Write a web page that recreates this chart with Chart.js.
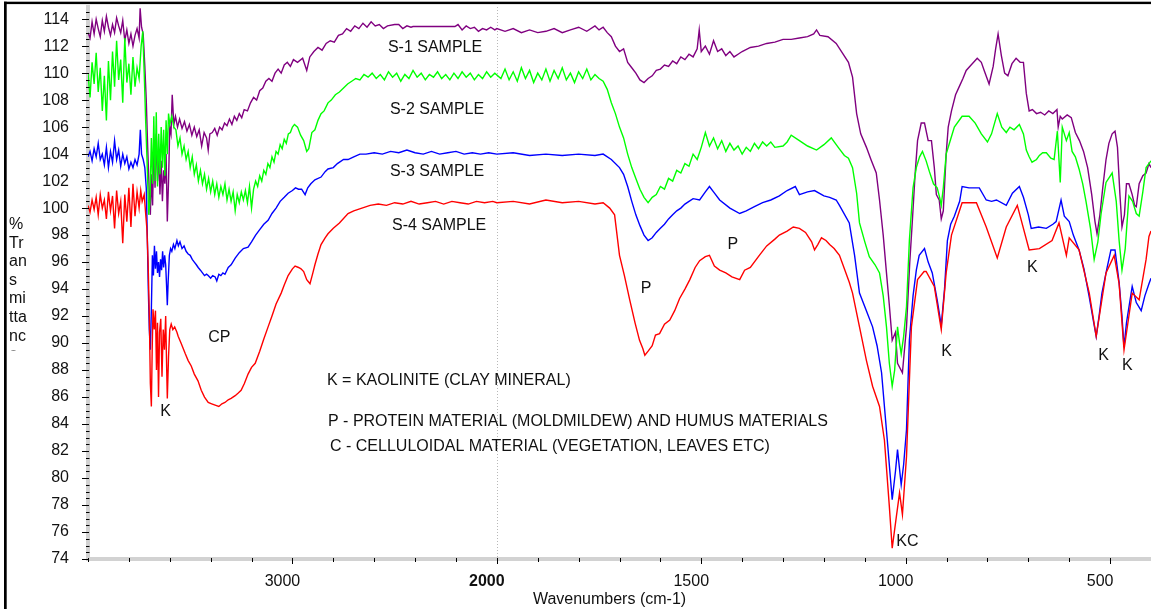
<!DOCTYPE html>
<html>
<head>
<meta charset="utf-8">
<script src="https://cdn.jsdelivr.net/npm/chart.js@4/dist/chart.umd.min.js"></script>
<style>
  html, body { margin: 0; padding: 0; background: #fff; }
  canvas { display: block; }
</style>
</head>
<body>
<canvas id="ftir" width="1151" height="609"></canvas>
<script>
/* ── Spectra: [wavenumber cm-1, %T] ─────────────────────────────────── */
const s1 = [
  [4000,113.0],[3990,112.6],[3980,113.8],[3970,112.9],[3960,114.0],[3950,113.3],[3940,112.7],[3930,113.9],
  [3920,113.1],[3910,114.2],[3900,113.4],[3890,112.8],[3880,113.6],[3870,113.0],[3860,114.1],[3850,113.5],
  [3840,113.0],[3830,113.9],[3820,112.4],[3810,113.2],[3800,112.2],[3790,112.9],[3780,112.0],[3770,112.8],
  [3760,113.3],[3750,112.6],[3745,114.8],[3738,113.4],[3730,112.9],[3722,110.5],[3715,108.0],[3708,104.5],
  [3700,101.0],[3695,99.5],[3690,102.5],[3684,100.2],[3678,104.8],[3672,101.5],[3666,105.5],[3660,102.0],
  [3654,104.0],[3648,101.0],[3642,103.5],[3636,100.5],[3630,102.8],[3624,101.8],[3618,104.0],[3612,99.0],
  [3606,102.0],[3600,106.0],[3594,105.5],[3588,108.4],[3580,106.2],[3572,106.8],[3562,106.0],[3552,106.6],
  [3540,105.9],[3528,106.4],[3516,105.7],[3504,106.2],[3492,105.4],[3480,106.0],[3468,105.3],[3456,105.8],
  [3444,104.6],[3432,105.6],[3420,105.2],[3412,104.3],[3404,105.5],[3392,105.6],[3380,105.9],[3368,105.4],
  [3356,106.0],[3344,105.8],[3332,106.3],[3320,106.1],[3308,106.6],[3296,106.2],[3284,106.8],[3272,106.5],
  [3260,107.0],[3248,106.7],[3236,107.3],[3220,107.2],[3205,107.8],[3190,108.2],[3175,108.0],[3160,108.7],
  [3145,108.9],[3130,109.4],[3115,109.6],[3100,109.4],[3085,110.0],[3070,110.3],[3055,110.0],[3040,110.6],
  [3025,110.8],[3010,110.5],[2995,111.0],[2975,110.8],[2950,111.1],[2930,110.2],[2915,111.2],[2895,111.6],
  [2875,111.9],[2855,111.7],[2835,112.2],[2815,112.4],[2795,112.3],[2775,112.8],[2755,112.9],[2735,113.3],
  [2715,113.1],[2695,113.5],[2675,113.3],[2655,113.7],[2635,113.4],[2615,113.8],[2595,113.5],[2575,113.6],
  [2555,113.3],[2535,113.5],[2500,113.6],[2480,113.6],[2460,113.3],[2440,113.5],[2420,113.4],[2410,113.45],
  [2205,113.45],[2190,113.6],[2170,113.2],[2150,113.5],[2130,113.3],[2110,113.4],[2090,113.1],[2070,113.3],
  [2050,113.2],[2030,113.4],[2010,113.2],[2000,113.3],[1980,113.1],[1960,113.3],[1940,113.0],[1920,113.2],
  [1900,113.0],[1880,113.1],[1860,113.3],[1840,113.0],[1820,113.2],[1800,113.4],[1780,113.1],[1760,113.5],
  [1750,113.2],[1740,113.4],[1730,113.0],[1720,112.7],[1710,112.0],[1700,111.6],[1690,111.8],[1680,110.8],
  [1670,110.4],[1660,110.0],[1650,109.5],[1640,109.3],[1630,109.6],[1620,109.8],[1610,110.2],[1600,110.3],
  [1590,110.6],[1580,110.5],[1570,110.9],[1560,110.7],[1550,111.2],[1540,111.0],[1530,111.4],[1520,111.2],
  [1510,111.8],[1505,113.2],[1500,111.6],[1490,112.0],[1480,111.4],[1470,112.4],[1460,111.6],[1450,111.8],
  [1440,111.3],[1430,111.6],[1420,111.2],[1410,111.4],[1400,111.6],[1380,111.9],[1360,112.0],[1340,112.2],
  [1320,112.3],[1300,112.5],[1280,112.5],[1260,112.6],[1240,112.7],[1225,112.9],[1218,113.2],[1210,112.8],
  [1190,112.7],[1170,112.2],[1155,111.5],[1140,110.8],[1130,109.7],[1120,107.0],[1110,105.5],[1096,104.5],
  [1085,103.6],[1072,102.6],[1064,100.6],[1055,98.0],[1047,95.2],[1040,92.8],[1033,90.2],[1025,90.8],
  [1020,88.5],[1008,87.8],[1003,89.5],[998,91.2],[990,96.0],[984,98.9],[977,102.5],[971,105.0],
  [962,106.3],[954,106.3],[945,105.0],[937,105.0],[930,103.0],[925,101.0],[918,100.6],[913,99.2],
  [908,99.8],[901,104.0],[896,106.0],[888,107.2],[878,108.4],[869,109.0],[860,109.6],[852,110.2],
  [840,110.6],[825,111.1],[815,110.8],[808,110.2],[796,109.2],[786,110.5],[780,111.8],[774,112.9],
  [766,111.3],[758,110.0],[750,109.8],[740,110.7],[730,111.1],[720,110.8],[712,110.8],[705,108.5],
  [698,107.2],[690,107.3],[680,107.0],[670,107.1],[660,106.9],[650,107.2],[640,107.0],[630,107.3],
  [627,106.0],[622,106.8],[617,106.6],[605,106.9],[595,106.7],[585,105.6],[575,105.0],[565,104.2],
  [555,103.0],[545,101.0],[537,99.0],[532,98.1],[525,99.5],[518,101.5],[510,103.6],[503,104.8],
  [495,105.5],[488,105.7],[482,104.5],[476,101.0],[471,98.6],[465,99.5],[460,101.8],[454,101.8],
  [446,101.0],[440,100.2],[436,100.1],[429,101.8],[420,102.4],[412,102.6],[405,103.3],[400,103.0]
];

const s2 = [
  [4000,110.0],[3990,108.2],[3980,110.8],[3970,109.2],[3960,111.5],[3950,108.6],[3940,110.4],[3930,107.2],
  [3920,109.8],[3910,106.5],[3900,110.9],[3890,108.0],[3880,111.6],[3870,109.0],[3860,112.4],[3850,109.5],
  [3840,111.0],[3830,107.8],[3820,112.6],[3810,109.3],[3800,110.7],[3790,108.4],[3780,111.2],[3770,109.0],
  [3760,110.4],[3750,109.6],[3740,112.0],[3732,113.1],[3725,110.0],[3718,106.5],[3710,103.0],[3703,99.5],
  [3697,100.5],[3690,105.2],[3684,101.8],[3678,106.8],[3672,102.0],[3666,107.1],[3660,101.6],[3654,105.5],
  [3648,102.5],[3642,106.0],[3636,103.0],[3630,105.8],[3624,102.4],[3618,106.5],[3612,104.0],[3606,107.0],
  [3600,106.2],[3590,106.8],[3580,106.0],[3570,105.8],[3560,104.6],[3550,105.2],[3540,104.0],[3530,104.6],
  [3520,103.6],[3510,104.2],[3500,103.0],[3490,103.8],[3480,102.5],[3470,103.2],[3460,102.0],[3450,102.8],
  [3440,101.8],[3430,102.5],[3420,101.4],[3410,102.2],[3400,101.2],[3390,102.0],[3380,101.0],[3370,101.8],
  [3360,100.8],[3350,101.6],[3340,101.0],[3330,101.8],[3320,100.6],[3310,101.4],[3300,100.5],[3290,101.2],
  [3280,99.8],[3270,101.0],[3260,100.4],[3250,101.2],[3240,100.6],[3230,101.3],[3220,100.4],[3210,101.6],
  [3200,100.0],[3190,101.4],[3180,102.0],[3170,101.6],[3160,102.4],[3150,102.0],[3140,102.8],[3130,102.5],
  [3120,103.3],[3110,103.0],[3100,103.8],[3090,103.4],[3080,104.2],[3070,104.0],[3060,104.7],[3050,104.4],
  [3040,105.1],[3030,104.8],[3020,105.5],[3010,105.6],[3000,106.0],[2990,106.2],[2975,106.0],[2960,105.4],
  [2945,105.0],[2930,104.2],[2920,104.4],[2905,105.6],[2890,105.8],[2875,106.5],[2860,107.0],[2845,107.2],
  [2826,107.8],[2810,108.0],[2790,108.4],[2770,108.6],[2750,108.9],[2730,109.2],[2710,109.4],[2690,109.6],
  [2670,109.5],[2650,109.9],[2630,109.7],[2610,110.0],[2590,109.6],[2570,109.9],[2550,109.5],[2530,110.1],
  [2510,109.7],[2490,110.0],[2470,109.4],[2450,109.9],[2430,109.6],[2410,110.2],[2390,109.7],[2370,110.0],
  [2350,109.5],[2330,109.9],[2310,109.7],[2290,110.1],[2270,109.6],[2250,109.9],[2230,109.5],[2210,110.0],
  [2190,109.6],[2170,110.1],[2150,109.7],[2130,110.0],[2110,109.5],[2090,109.9],[2070,109.6],[2050,110.1],
  [2030,109.7],[2010,110.0],[1990,109.6],[1980,110.3],[1970,109.5],[1960,110.1],[1950,109.4],[1940,110.4],
  [1930,109.6],[1920,110.2],[1910,109.3],[1900,110.0],[1890,109.5],[1880,110.3],[1870,109.4],[1860,110.2],
  [1850,109.6],[1840,110.4],[1830,109.5],[1820,110.0],[1810,109.3],[1800,110.1],[1790,109.6],[1780,110.3],
  [1770,109.5],[1760,109.9],[1750,109.6],[1740,109.4],[1730,108.8],[1720,107.8],[1710,107.0],[1700,106.0],
  [1690,105.2],[1680,104.0],[1670,103.0],[1660,102.2],[1650,101.4],[1640,100.8],[1630,100.4],[1620,100.8],
  [1610,101.0],[1600,101.6],[1590,101.4],[1580,102.2],[1570,102.0],[1560,102.8],[1550,102.6],[1540,103.3],
  [1530,103.1],[1520,104.0],[1510,103.6],[1500,104.5],[1490,105.6],[1480,104.6],[1470,105.2],[1460,104.4],
  [1450,105.0],[1440,104.2],[1430,104.8],[1420,104.3],[1410,104.6],[1400,104.0],[1390,104.5],[1380,104.2],
  [1370,104.8],[1360,104.4],[1350,104.9],[1340,104.6],[1330,104.9],[1320,104.5],[1300,104.6],[1290,104.9],
  [1280,105.4],[1260,105.0],[1240,104.6],[1218,104.3],[1200,104.7],[1182,105.2],[1165,104.5],[1150,103.9],
  [1140,103.7],[1130,103.0],[1120,101.1],[1113,98.9],[1100,97.5],[1089,96.4],[1075,95.8],[1064,95.2],
  [1055,93.5],[1047,91.2],[1040,88.5],[1033,86.8],[1027,88.0],[1020,91.2],[1015,90.0],[1011,89.2],
  [1005,90.5],[998,92.7],[991,97.6],[982,101.5],[974,103.0],[966,103.8],[959,104.2],[950,103.5],
  [942,102.7],[932,101.8],[923,101.5],[917,100.8],[913,100.2],[908,101.5],[901,104.0],[893,104.8],
  [881,106.0],[862,106.8],[845,106.8],[830,106.3],[815,105.5],[800,104.9],[790,105.5],[776,107.0],
  [765,106.0],[754,105.6],[745,106.0],[735,105.8],[722,106.2],[712,105.5],[705,104.3],[698,103.8],
  [691,103.4],[680,103.6],[673,103.9],[665,104.1],[656,104.1],[645,103.7],[637,103.6],[629,105.7],
  [622,101.9],[617,106.0],[607,105.0],[600,105.6],[593,104.2],[585,103.8],[576,102.9],[567,101.8],
  [559,100.5],[548,98.5],[539,96.2],[530,97.5],[522,99.6],[510,101.9],[495,102.6],[485,100.5],
  [478,97.6],[471,95.4],[463,97.0],[454,100.9],[445,100.5],[436,99.6],[429,99.4],[420,101.2],
  [412,103.0],[405,103.3],[400,103.5]
];

const s3 = [
  [4000,103.8],[3990,104.2],[3980,103.5],[3970,104.4],[3960,103.8],[3950,104.8],[3940,103.6],[3930,104.0],
  [3920,103.2],[3910,104.5],[3900,103.0],[3890,104.2],[3880,103.4],[3870,105.0],[3860,103.6],[3850,104.3],
  [3840,103.1],[3830,104.0],[3820,103.3],[3810,103.8],[3800,102.9],[3790,103.4],[3780,103.0],[3770,103.6],
  [3760,103.2],[3750,104.0],[3744,105.8],[3738,104.0],[3730,103.6],[3722,103.0],[3715,101.5],[3710,98.0],
  [3705,94.0],[3700,91.0],[3695,89.5],[3690,92.5],[3685,96.5],[3680,95.0],[3675,97.2],[3670,95.5],
  [3665,96.8],[3660,95.2],[3655,96.0],[3650,94.9],[3645,96.2],[3640,95.4],[3635,96.8],[3630,95.6],
  [3625,96.5],[3620,95.8],[3615,94.0],[3612,92.8],[3608,94.5],[3602,96.5],[3596,97.0],[3590,96.8],
  [3582,97.3],[3575,97.0],[3565,97.6],[3558,97.2],[3550,97.5],[3540,97.0],[3530,97.2],[3520,96.8],
  [3510,96.6],[3500,96.5],[3490,96.2],[3480,96.0],[3470,95.8],[3461,95.6],[3450,95.4],[3440,95.2],
  [3430,95.0],[3420,95.1],[3412,95.0],[3400,94.8],[3390,95.0],[3378,94.9],[3370,94.6],[3360,95.1],
  [3350,95.0],[3340,95.2],[3330,95.1],[3314,95.6],[3300,95.8],[3280,96.3],[3260,96.7],[3240,97.0],
  [3217,97.1],[3200,97.5],[3180,98.0],[3160,98.4],[3140,98.8],[3119,99.1],[3100,99.6],[3080,100.0],
  [3060,100.5],[3040,100.8],[3021,101.1],[3000,101.3],[2985,101.5],[2970,101.4],[2955,101.4],[2938,101.0],
  [2925,101.5],[2910,101.8],[2890,102.1],[2860,102.3],[2840,102.7],[2826,102.9],[2800,103.0],[2780,103.3],
  [2750,103.6],[2728,103.6],[2700,103.8],[2670,104.0],[2640,104.0],[2600,104.1],[2560,104.0],[2520,104.2],
  [2480,104.1],[2440,104.3],[2400,104.1],[2360,104.0],[2320,104.2],[2280,104.0],[2240,104.1],[2200,104.2],
  [2160,104.0],[2120,104.1],[2080,104.0],[2040,104.1],[2000,104.0],[1960,104.1],[1920,103.9],[1880,104.0],
  [1840,103.9],[1800,104.0],[1760,103.9],[1740,104.0],[1720,103.6],[1700,103.0],[1690,102.5],[1680,101.6],
  [1670,100.5],[1660,99.5],[1650,98.7],[1640,98.0],[1630,97.6],[1620,97.8],[1610,98.2],[1600,98.5],
  [1590,98.8],[1580,99.2],[1570,99.5],[1560,99.8],[1550,100.0],[1540,100.3],[1530,100.5],[1520,100.7],
  [1504,100.6],[1490,101.2],[1480,101.6],[1470,101.2],[1455,100.6],[1430,100.0],[1406,99.6],[1390,99.8],
  [1370,100.1],[1350,100.4],[1330,100.6],[1309,100.9],[1290,101.3],[1270,101.6],[1260,101.0],[1240,101.2],
  [1223,101.3],[1200,100.9],[1186,100.8],[1170,100.6],[1162,100.2],[1138,98.9],[1125,96.5],[1113,93.7],
  [1095,92.3],[1081,91.2],[1070,89.8],[1059,87.8],[1045,82.8],[1033,78.4],[1025,80.5],[1020,82.1],
  [1011,79.5],[1005,81.0],[998,83.6],[991,90.2],[982,93.5],[974,95.4],[967,96.5],[954,97.0],
  [945,96.0],[935,95.2],[923,93.2],[913,91.3],[905,94.0],[898,97.6],[890,98.8],[881,99.4],
  [868,100.5],[862,101.6],[845,101.5],[827,101.5],[820,101.5],[803,100.6],[790,100.5],[778,100.6],
  [754,100.2],[739,101.1],[722,101.6],[712,100.8],[700,99.5],[693,98.5],[675,98.6],[656,98.5],
  [640,98.8],[632,99.0],[620,100.6],[612,99.4],[600,99.0],[590,98.0],[576,96.9],[564,95.5],
  [551,93.4],[540,91.5],[534,90.5],[527,92.0],[520,93.7],[508,95.5],[498,96.9],[488,96.9],
  [478,94.5],[471,92.0],[466,89.7],[460,91.5],[446,94.2],[436,93.0],[424,92.4],[415,93.5],
  [405,94.4],[400,94.8]
];

const s4 = [
  [4000,100.2],[3990,99.7],[3980,100.6],[3970,99.9],[3960,100.8],[3950,99.5],[3940,101.0],[3930,100.0],
  [3920,100.6],[3910,99.2],[3900,101.2],[3890,99.8],[3880,100.9],[3870,98.5],[3860,101.3],[3850,99.6],
  [3840,100.5],[3830,97.4],[3820,101.0],[3810,99.0],[3800,101.5],[3790,98.6],[3780,101.8],[3770,99.4],
  [3760,101.2],[3750,100.0],[3742,101.3],[3735,100.5],[3725,101.0],[3718,99.6],[3712,98.5],[3706,96.0],
  [3700,92.0],[3695,87.0],[3690,85.3],[3686,89.5],[3682,92.5],[3676,91.0],[3670,92.4],[3665,88.0],
  [3660,91.5],[3655,86.0],[3650,90.8],[3644,91.8],[3638,87.5],[3632,91.0],[3626,89.5],[3620,92.0],
  [3615,88.0],[3612,85.9],[3606,89.0],[3600,91.0],[3593,91.4],[3585,91.0],[3576,91.2],[3565,90.8],
  [3559,90.5],[3545,90.0],[3524,89.2],[3510,88.7],[3495,88.3],[3480,87.7],[3462,87.2],[3446,86.5],
  [3430,86.0],[3412,85.6],[3395,85.5],[3378,85.4],[3360,85.3],[3345,85.5],[3330,85.6],[3314,85.8],
  [3300,85.9],[3280,86.1],[3265,86.3],[3251,86.5],[3235,87.0],[3217,87.7],[3200,88.2],[3182,88.5],
  [3160,89.4],[3140,90.3],[3119,91.2],[3100,92.0],[3080,92.9],[3055,93.7],[3040,94.3],[3021,95.0],
  [3000,95.5],[2987,95.7],[2970,95.6],[2958,95.5],[2945,95.3],[2930,94.7],[2914,94.4],[2900,95.2],
  [2890,95.8],[2875,96.6],[2860,97.3],[2840,97.8],[2826,98.1],[2800,98.5],[2770,98.9],[2728,99.6],
  [2700,99.8],[2660,100.0],[2620,100.2],[2580,100.3],[2540,100.2],[2500,100.4],[2460,100.3],[2420,100.5],
  [2380,100.3],[2340,100.4],[2300,100.5],[2260,100.3],[2220,100.5],[2180,100.4],[2140,100.3],[2100,100.5],
  [2060,100.4],[2020,100.5],[2000,100.4],[1960,100.5],[1920,100.3],[1880,100.6],[1840,100.4],[1800,100.5],
  [1760,100.3],[1740,100.4],[1724,100.0],[1712,99.5],[1700,96.5],[1688,95.0],[1675,93.2],[1662,91.5],
  [1651,90.2],[1643,89.6],[1638,89.1],[1630,89.4],[1620,89.8],[1612,90.6],[1602,90.7],[1590,91.4],
  [1577,91.7],[1565,92.4],[1553,93.3],[1540,94.0],[1528,94.7],[1515,95.6],[1504,96.1],[1490,96.4],
  [1480,96.5],[1468,95.7],[1455,95.4],[1440,95.2],[1425,94.9],[1406,94.7],[1394,95.4],[1380,95.6],
  [1358,96.5],[1340,97.2],[1320,97.7],[1309,98.0],[1290,98.3],[1275,98.6],[1260,98.5],[1245,98.2],
  [1230,97.5],[1223,96.9],[1215,97.3],[1206,97.8],[1195,97.6],[1186,97.3],[1175,97.0],[1162,96.5],
  [1150,95.5],[1138,94.5],[1130,93.7],[1113,91.2],[1096,88.7],[1081,86.8],[1064,85.3],[1052,82.8],
  [1040,77.9],[1033,74.8],[1023,77.1],[1015,78.9],[1008,77.3],[998,81.6],[986,91.2],[971,94.7],
  [955,95.3],[950,95.3],[930,94.2],[913,91.0],[901,95.2],[888,98.0],[862,100.4],[827,100.4],
  [803,98.6],[776,96.3],[754,98.6],[727,100.2],[698,96.9],[673,97.0],[642,97.6],[625,98.9],
  [607,96.5],[600,97.8],[576,96.9],[551,93.7],[534,90.5],[510,95.2],[490,96.5],[478,94.4],
  [466,89.5],[446,93.7],[429,93.2],[412,96.2],[405,97.9],[400,98.3]
];

const seriesNames  = ["S-1 SAMPLE", "S-2 SAMPLE", "S-3 SAMPLE", "S-4 SAMPLE"];
const seriesColors = ["#800080", "#00ff00", "#0000ff", "#ff0000"];

/* ── Axis labels ───────────────────────────────────────────────────── */
const xTickWn   = [3000, 2000, 1500, 1000, 500];
const yTickVals = [74,76,78,80,82,84,86,88,90,92,94,96,98,100,102,104,106,108,110,112,114];
const yTitleLines = ["%", "Tr", "an", "s", "mi", "tta", "nc", "e"];

/* ── Text annotations placed in data coordinates ───────────────────── */
const notes = [
  { text: "S-1 SAMPLE", wn: 2533, t: 111.9 },
  { text: "S-2 SAMPLE", wn: 2523, t: 107.3 },
  { text: "S-3 SAMPLE", wn: 2523, t: 102.7 },
  { text: "S-4 SAMPLE", wn: 2513, t: 98.7 },
  { text: "CP",  wn: 3412, t: 90.4 },
  { text: "K",   wn: 3647, t: 84.9 },
  { text: "K = KAOLINITE (CLAY MINERAL)", wn: 2831, t: 87.2 },
  { text: "P - PROTEIN MATERIAL (MOLDMILDEW) AND HUMUS MATERIALS", wn: 2826, t: 84.2 },
  { text: "C - CELLULOIDAL MATERIAL (VEGETATION, LEAVES ETC)", wn: 2816, t: 82.3 },
  { text: "P",  wn: 1648, t: 94.0 },
  { text: "P",  wn: 1436, t: 97.3 },
  { text: "K",  wn: 913,  t: 89.4 },
  { text: "KC", wn: 1023, t: 75.3 },
  { text: "K",  wn: 703,  t: 95.6 },
  { text: "K",  wn: 529,  t: 89.1 },
  { text: "K",  wn: 471,  t: 88.3 },
];

/* The instrument compresses the axis above 2000 cm-1 to half scale */
function toAxis(wn) { return wn > 2000 ? 2000 + (wn - 2000) / 2 : wn; }
function fromAxis(u) { return u > 2000 ? 2000 + (u - 2000) * 2 : u; }

const FONT = '"Liberation Sans", Arial, Helvetica, sans-serif';

const spectra = [s1, s2, s3, s4];
const datasets = spectra.map((pts, i) => ({
  label: seriesNames[i],
  data: pts.map(([w, t]) => ({ x: toAxis(w), y: t })),
  borderColor: seriesColors[i],
  borderWidth: 1.4,
  pointRadius: 0,
  tension: 0,
  order: 4 - i,   // red drawn on top
}));

/* ── Frame, ticks, titles and notes ────────────────────────────────── */
const decor = {
  id: "decor",
  beforeDraw(chart) {
    const { ctx, width, height } = chart;
    ctx.save();
    ctx.fillStyle = "#fff";
    ctx.fillRect(0, 0, width, height);
    ctx.restore();
  },
  beforeDatasetsDraw(chart) {
    const { ctx, chartArea: a, scales: { x } } = chart;
    const px = x.getPixelForValue(2000);
    ctx.save();
    ctx.strokeStyle = "#b8b8b8";
    ctx.lineWidth = 1;
    ctx.setLineDash([1, 2]);
    ctx.beginPath();
    ctx.moveTo(Math.round(px) + 0.5, a.top);
    ctx.lineTo(Math.round(px) + 0.5, a.bottom);
    ctx.stroke();
    ctx.restore();
  },
  afterDatasetsDraw(chart) {
    const { ctx, scales: { x, y } } = chart;
    ctx.save();
    ctx.fillStyle = "#111";
    ctx.font = "16px " + FONT;
    ctx.textAlign = "left";
    ctx.textBaseline = "middle";
    notes.forEach((n) => {
      ctx.fillText(n.text, x.getPixelForValue(toAxis(n.wn)), y.getPixelForValue(n.t));
    });
    ctx.restore();
  },
  afterDraw(chart) {
    const { ctx, chartArea: a, scales: { x, y }, width } = chart;
    ctx.save();
    ctx.strokeStyle = "#000";
    ctx.lineWidth = 1;

    // y ticks: major every 2, minor every 0.5
    for (let v = 74; v <= 114.9; v += 0.5) {
      const py = Math.round(y.getPixelForValue(v)) + 0.5;
      const major = v % 2 === 0;
      ctx.beginPath();
      ctx.moveTo(a.left - (major ? 6 : 2), py);
      ctx.lineTo(a.left + (major ? 1 : 1.5), py);
      ctx.stroke();
    }
    // x ticks every 100 axis units, longer at labelled ones
    const labelled = xTickWn.map(toAxis);
    for (let u = 500; u <= 3000; u += 100) {
      const pxx = Math.round(x.getPixelForValue(u)) + 0.5;
      const major = labelled.includes(u);
      ctx.beginPath();
      ctx.moveTo(pxx, a.bottom - 1);
      ctx.lineTo(pxx, a.bottom + (major ? 5 : 3));
      ctx.stroke();
    }

    // outer frame (top and left black rules)
    ctx.fillStyle = "#000";
    ctx.fillRect(4, 1.7, width - 4, 2.4);
    ctx.fillRect(4, 1.7, 2.7, chart.height);

    // stacked y title, clipped like the original
    ctx.save();
    ctx.beginPath();
    ctx.rect(0, 200, 40, 150.5);
    ctx.clip();
    ctx.fillStyle = "#111";
    ctx.font = "16px " + FONT;
    ctx.textAlign = "left";
    ctx.textBaseline = "alphabetic";
    yTitleLines.forEach((s, i) => ctx.fillText(s, 9, 229 + i * 18.6));
    ctx.restore();

    // x title
    ctx.fillStyle = "#111";
    ctx.font = "16px " + FONT;
    ctx.textAlign = "center";
    ctx.textBaseline = "middle";
    ctx.fillText("Wavenumbers (cm-1)", (a.left + a.right) / 2 - 10, 600);
    ctx.restore();
  },
};

new Chart(document.getElementById("ftir"), {
  type: "line",
  data: { datasets },
  plugins: [decor],
  options: {
    responsive: false,
    animation: false,
    devicePixelRatio: 1,
    layout: { padding: { top: 7, right: 0, left: 0, bottom: 0 } },
    plugins: { legend: { display: false }, tooltip: { enabled: false } },
    scales: {
      x: {
        type: "linear",
        reverse: true,
        min: 400,
        max: 3000,
        afterFit: (s) => { s.height = 50; s.paddingLeft = 0; s.paddingRight = 0; },
        afterBuildTicks: (s) => { s.ticks = xTickWn.map((w) => ({ value: toAxis(w) })); },
        grid: { drawOnChartArea: false, drawTicks: true, tickLength: 5, color: "transparent", tickColor: "transparent" },
        border: { display: true, color: "#d2d2d2", width: 4 },
        ticks: {
          color: "#111",
          padding: 8,
          labelOffset: -10,
          maxRotation: 0,
          autoSkip: false,
          font: (c) => ({ family: FONT, size: 16, weight: c.tick && c.tick.value === 2000 ? "bold" : "normal" }),
          callback: (v) => String(fromAxis(v)),
        },
      },
      y: {
        type: "linear",
        min: 74,
        max: 114.9,
        afterFit: (s) => { s.width = 88; s.paddingTop = 0; s.paddingBottom = 0; },
        afterBuildTicks: (s) => { s.ticks = yTickVals.map((v) => ({ value: v })); },
        grid: { drawOnChartArea: false, drawTicks: true, tickLength: 6, color: "transparent", tickColor: "transparent" },
        border: { display: true, color: "#d2d2d2", width: 4 },
        ticks: {
          color: "#111",
          padding: 13,
          autoSkip: false,
          font: { family: FONT, size: 16 },
          callback: (v) => String(v),
        },
      },
    },
  },
});
</script>
</body>
</html>
